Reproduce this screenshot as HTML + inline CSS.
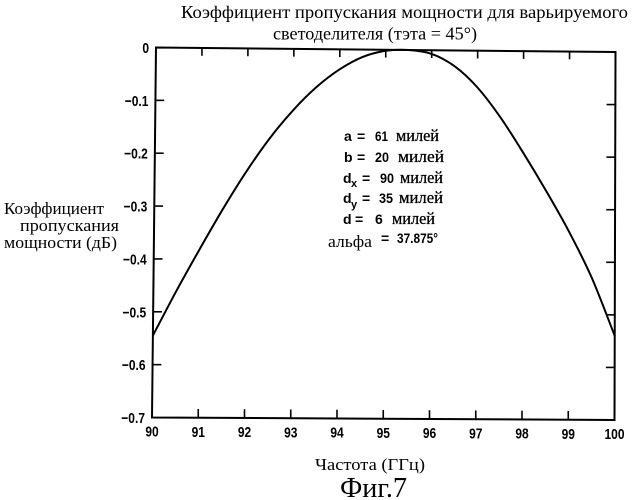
<!DOCTYPE html>
<html lang="ru">
<head>
<meta charset="utf-8">
<title>Фиг.7</title>
<style>
html,body{margin:0;padding:0;background:#fff;}
svg{display:block;}
.serif{font-family:"Liberation Serif","Noto Serif CJK SC",serif;fill:#000;}
.sans{font-family:"Liberation Sans",sans-serif;font-weight:bold;fill:#000;}
.tick-label{font-size:15px;}
.ann{font-size:14px;}
.ann-serif{font-size:17px;stroke:#000;stroke-width:0.3px;}
</style>
</head>
<body>
<svg id="chart" width="632" height="500" viewBox="0 0 632 500" xmlns="http://www.w3.org/2000/svg">
  <rect x="0" y="0" width="632" height="500" fill="#fff"/>
  <text class="serif" x="181" y="18" font-size="17.5" textLength="447" lengthAdjust="spacingAndGlyphs">Коэффициент пропускания мощности для варьируемого</text>
  <text class="serif" x="273" y="39.5" font-size="17.5" textLength="204" lengthAdjust="spacingAndGlyphs">светоделителя (тэта = 45°)</text>
  <g>
    <text class="serif" x="4" y="214" font-size="17" textLength="100" lengthAdjust="spacingAndGlyphs">Коэффициент</text>
    <text class="serif" x="20" y="231" font-size="17" textLength="99" lengthAdjust="spacingAndGlyphs">пропускания</text>
    <text class="serif" x="4" y="248" font-size="17" textLength="113" lengthAdjust="spacingAndGlyphs">мощности (дБ)</text>
  </g>
  <text class="serif" x="315" y="470" font-size="17" textLength="110" lengthAdjust="spacingAndGlyphs">Частота (ГГц)</text>
  <text class="serif" x="340" y="497" font-size="28" textLength="67" lengthAdjust="spacingAndGlyphs">Фиг.7</text>

  <g id="plot"></g>

  <g>
    <g>
      <text class="sans ann" x="344" y="141">a</text>
      <text class="sans ann" x="357" y="141">=</text>
      <text class="sans ann" x="375" y="141" textLength="13" lengthAdjust="spacingAndGlyphs">61</text>
      <text class="serif ann-serif" x="396" y="141" textLength="43" lengthAdjust="spacingAndGlyphs">милей</text>
    </g>
    <g>
      <text class="sans ann" x="344" y="162">b</text>
      <text class="sans ann" x="357" y="162">=</text>
      <text class="sans ann" x="375" y="162" textLength="14" lengthAdjust="spacingAndGlyphs">20</text>
      <text class="serif ann-serif" x="398" y="162" textLength="46" lengthAdjust="spacingAndGlyphs">милей</text>
    </g>
    <g>
      <text class="sans ann" x="343" y="183">d</text>
      <text class="sans" font-size="11" x="351" y="187">x</text>
      <text class="sans ann" x="362" y="183">=</text>
      <text class="sans ann" x="380" y="183" textLength="14" lengthAdjust="spacingAndGlyphs">90</text>
      <text class="serif ann-serif" x="400" y="183" textLength="43" lengthAdjust="spacingAndGlyphs">милей</text>
    </g>
    <g>
      <text class="sans ann" x="343" y="203">d</text>
      <text class="sans" font-size="11" x="351" y="208">y</text>
      <text class="sans ann" x="362" y="203">=</text>
      <text class="sans ann" x="379" y="203" textLength="14" lengthAdjust="spacingAndGlyphs">35</text>
      <text class="serif ann-serif" x="399" y="203" textLength="44" lengthAdjust="spacingAndGlyphs">милей</text>
    </g>
    <g>
      <text class="sans ann" x="343" y="224">d</text>
      <text class="sans ann" x="355" y="224">=</text>
      <text class="sans ann" x="375" y="224">6</text>
      <text class="serif ann-serif" x="392" y="224" textLength="43" lengthAdjust="spacingAndGlyphs">милей</text>
    </g>
    <g>
      <text class="serif" font-size="17" x="328" y="247" textLength="44" lengthAdjust="spacingAndGlyphs">альфа</text>
      <text class="sans ann" x="381" y="243">=</text>
      <text class="sans ann" x="397" y="243" textLength="41" lengthAdjust="spacingAndGlyphs">37.875°</text>
    </g>
  </g>
</svg>
<script>
var frequencies = [90, 90.5, 91, 91.5, 92, 92.5, 93, 93.5, 94, 94.5, 95, 95.5, 96, 96.5, 97, 97.5, 98, 98.5, 99, 99.5, 100];
var transmission = [-0.545, -0.46, -0.38, -0.303, -0.232, -0.169, -0.116, -0.072, -0.038, -0.014, -0.002, 0, -0.007, -0.03, -0.07, -0.126, -0.193, -0.265, -0.342, -0.43, -0.54];
var xTicks = [90, 91, 92, 93, 94, 95, 96, 97, 98, 99, 100];
var yTicks = [0, -0.1, -0.2, -0.3, -0.4, -0.5, -0.6, -0.7];
var yTickLabels = ['0', '−0.1', '−0.2', '−0.3', '−0.4', '−0.5', '−0.6', '−0.7'];

var SVG_NS = 'http://www.w3.org/2000/svg';
var plot = document.getElementById('plot');
var xMin = 90, xMax = 100, yMin = -0.7, yMax = 0;
// the scanned frame is slightly skewed: corners of the plot box
var TL = [156, 47.5], TR = [615.5, 52], BL = [152, 417.5], BR = [614.5, 420];

function sx(f, v) {
  var u = (f - xMin) / (xMax - xMin), w = (yMax - v) / (yMax - yMin);
  return (TL[0] * (1 - u) + TR[0] * u) * (1 - w) + (BL[0] * (1 - u) + BR[0] * u) * w;
}
function sy(f, v) {
  var u = (f - xMin) / (xMax - xMin), w = (yMax - v) / (yMax - yMin);
  return (TL[1] * (1 - u) + TR[1] * u) * (1 - w) + (BL[1] * (1 - u) + BR[1] * u) * w;
}
function drawLine(x1, y1, x2, y2, width) {
  var l = document.createElementNS(SVG_NS, 'line');
  l.setAttribute('x1', x1);
  l.setAttribute('y1', y1);
  l.setAttribute('x2', x2);
  l.setAttribute('y2', y2);
  l.setAttribute('stroke', '#000');
  l.setAttribute('stroke-width', width);
  l.setAttribute('stroke-linecap', 'square');
  plot.appendChild(l);
  return l;
}
function drawLabel(x, y, str, anchor) {
  var t = document.createElementNS(SVG_NS, 'text');
  t.setAttribute('x', x);
  t.setAttribute('y', y);
  t.setAttribute('text-anchor', anchor);
  t.setAttribute('class', 'sans tick-label');
  t.textContent = str;
  plot.appendChild(t);
  t.setAttribute('textLength', (t.getComputedTextLength() * 0.8).toFixed(2));
  t.setAttribute('lengthAdjust', 'spacingAndGlyphs');
  return t;
}

// frame
var frameEl = document.createElementNS(SVG_NS, 'polygon');


frameEl.setAttribute('points', [[xMin, yMax], [xMax, yMax], [xMax, yMin], [xMin, yMin]].map(function (p) {
  return sx(p[0], p[1]) + ',' + sy(p[0], p[1]);
}).join(' '));
frameEl.setAttribute('fill', 'none');
frameEl.setAttribute('stroke', '#000');
frameEl.setAttribute('stroke-width', '2');
plot.appendChild(frameEl);

// x ticks
xTicks.forEach(function (f) {
  var lab = drawLabel(sx(f, yMin), sy(f, yMin) + 19, String(f), 'middle');
  
  
  if (f === xMin || f === xMax) return;
  var b = drawLine(sx(f, yMin), sy(f, yMin), sx(f, yMin), sy(f, yMin) - 8, 1.6);
  
  
  var t = drawLine(sx(f, yMax), sy(f, yMax), sx(f, yMax), sy(f, yMax) + 7, 1.6);
  
  
});

// y ticks
yTicks.forEach(function (v, i) {
  var lab = drawLabel(sx(xMin, v) - 7, sy(xMin, v) + 5.5, yTickLabels[i], 'end');
  
  
  if (v === yMin || v === yMax) return;
  var l = drawLine(sx(xMin, v), sy(xMin, v), sx(xMin, v) + 8, sy(xMin, v), 1.6);
  
  
  var r = drawLine(sx(xMax, v), sy(xMax, v), sx(xMax, v) - 8, sy(xMax, v), 1.6);
  
  
});

// curve: smooth path through the data points (Catmull-Rom)
var pts = frequencies.map(function (f, i) {
  return [sx(f, transmission[i]), sy(f, transmission[i])];
});
var d = 'M' + pts[0][0].toFixed(2) + ' ' + pts[0][1].toFixed(2);
for (var i = 0; i < pts.length - 1; i++) {
  var p0 = pts[Math.max(i - 1, 0)], p1 = pts[i], p2 = pts[i + 1], p3 = pts[Math.min(i + 2, pts.length - 1)];
  d += ' C' + (p1[0] + (p2[0] - p0[0]) / 6).toFixed(2) + ' ' + (p1[1] + (p2[1] - p0[1]) / 6).toFixed(2) +
       ' ' + (p2[0] - (p3[0] - p1[0]) / 6).toFixed(2) + ' ' + (p2[1] - (p3[1] - p1[1]) / 6).toFixed(2) +
       ' ' + p2[0].toFixed(2) + ' ' + p2[1].toFixed(2);
}
var curve = document.createElementNS(SVG_NS, 'path');


curve.setAttribute('d', d);
curve.setAttribute('fill', 'none');
curve.setAttribute('stroke', '#000');
curve.setAttribute('stroke-width', '2');
curve.setAttribute('stroke-linejoin', 'round');
plot.appendChild(curve);
</script>
</body>
</html>
